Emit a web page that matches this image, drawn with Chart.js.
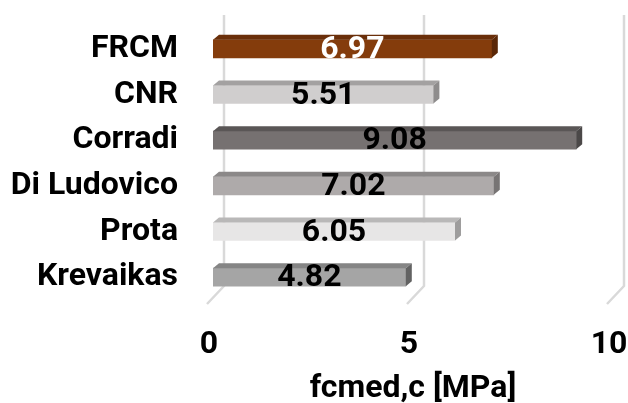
<!DOCTYPE html>
<html>
<head>
<meta charset="utf-8">
<script src="https://cdn.jsdelivr.net/npm/chart.js@4"></script>
<style>
  html, body { margin: 0; padding: 0; background: #ffffff; }
  #wrap { width: 628px; height: 403px; }
</style>
</head>
<body>
<div id="wrap"><canvas id="chart" width="628" height="403"></canvas></div>
<script>
// Mean compressive strength by model
const categories = ['FRCM', 'CNR', 'Corradi', 'Di Ludovico', 'Prota', 'Krevaikas'];
const strengths = [6.97, 5.51, 9.08, 7.02, 6.05, 4.82];
const xTicks = [0, 5, 10];
const axisTitle = 'fcmed,c [MPa]';

// Face colours of each 3D bar
const frontColors = ['#843c0c', '#d0cece', '#767171', '#aeaaaa', '#e7e6e6', '#a5a5a5'];
const topColors   = ['#6a2f0a', '#a3a1a1', '#5a5656', '#8b8888', '#b9b8b8', '#858585'];
const sideColors  = ['#5a2707', '#8e8c8c', '#4b4848', '#777474', '#9e9d9d', '#626262'];
const labelColors = ['#ffffff', '#000000', '#000000', '#000000', '#000000', '#000000'];

const FONT = 'Roboto, "Liberation Sans", Arial, sans-serif';
const DEPTH_X = 6, DEPTH_Y = 5;

// Back-wall grid lines that bend onto the floor
const wallGrid = {
  id: 'wallGrid',
  beforeDatasetsDraw(chart) {
    const xs = chart.scales.x;
    const ctx = chart.ctx;
    ctx.save();
    ctx.strokeStyle = '#d9d9d9';
    ctx.lineWidth = 2.5;
    ctx.lineJoin = 'round';
    xTicks.forEach(v => {
      const px = xs.getPixelForValue(v);
      ctx.beginPath();
      ctx.moveTo(px + 11, 15);
      ctx.lineTo(px + 11, 286);
      ctx.lineTo(px - 6, 304);
      ctx.stroke();
    });
    ctx.restore();
  }
};

// Top and side faces of each bar, then the value labels
const bar3d = {
  id: 'bar3d',
  afterDatasetsDraw(chart) {
    const ctx = chart.ctx;
    const meta = chart.getDatasetMeta(0);
    ctx.save();
    meta.data.forEach((el, i) => {
      const x0 = el.base, x1 = el.x;
      const y0 = el.y - el.height / 2, y1 = el.y + el.height / 2;
      ctx.fillStyle = topColors[i];
      ctx.beginPath();
      ctx.moveTo(x0, y0);
      ctx.lineTo(x0 + DEPTH_X, y0 - DEPTH_Y);
      ctx.lineTo(x1 + DEPTH_X, y0 - DEPTH_Y);
      ctx.lineTo(x1, y0);
      ctx.closePath();
      ctx.fill();
      ctx.fillStyle = sideColors[i];
      ctx.beginPath();
      ctx.moveTo(x1, y0);
      ctx.lineTo(x1 + DEPTH_X, y0 - DEPTH_Y);
      ctx.lineTo(x1 + DEPTH_X, y1 - DEPTH_Y);
      ctx.lineTo(x1, y1);
      ctx.closePath();
      ctx.fill();
    });
    ctx.font = 'bold 32px ' + FONT;
    ctx.textAlign = 'center';
    ctx.textBaseline = 'middle';
    meta.data.forEach((el, i) => {
      ctx.fillStyle = labelColors[i];
      ctx.fillText(strengths[i].toFixed(2), (el.base + el.x) / 2, el.y + 1);
    });
    ctx.restore();
  }
};

new Chart(document.getElementById('chart'), {
  type: 'bar',
  data: {
    labels: categories,
    datasets: [{
      data: strengths,
      backgroundColor: frontColors,
      borderWidth: 0,
      barThickness: 18
    }]
  },
  options: {
    indexAxis: 'y',
    responsive: false,
    animation: false,
    devicePixelRatio: 1,
    layout: { padding: { top: 26, right: 15, left: 0, bottom: 0 } },
    plugins: {
      legend: { display: false },
      tooltip: { enabled: false }
    },
    scales: {
      x: {
        min: 0,
        max: 10,
        afterBuildTicks(scale) { scale.ticks = xTicks.map(v => ({ value: v })); },
        afterFit(scale) {
          scale.height = 103;
          scale.paddingLeft = 0;
          scale.paddingRight = 0;
        },
        grid: { display: false, drawTicks: false },
        border: { display: false },
        ticks: {
          color: '#000000',
          font: { family: FONT, size: 32, weight: 'bold' },
          padding: 26,
          labelOffset: -4,
          maxRotation: 0
        },
        title: {
          display: true,
          text: axisTitle,
          color: '#000000',
          font: { family: FONT, size: 32, weight: 'bold' },
          padding: { top: 0, bottom: -5 }
        }
      },
      y: {
        afterFit(scale) {
          scale.width = 213;
          scale.paddingTop = 0;
          scale.paddingBottom = 0;
        },
        grid: { display: false, drawTicks: false },
        border: { display: false },
        ticks: {
          color: '#000000',
          font: { family: FONT, size: 32, weight: 'bold' },
          padding: 35
        }
      }
    }
  },
  plugins: [wallGrid, bar3d]
});
</script>
</body>
</html>
